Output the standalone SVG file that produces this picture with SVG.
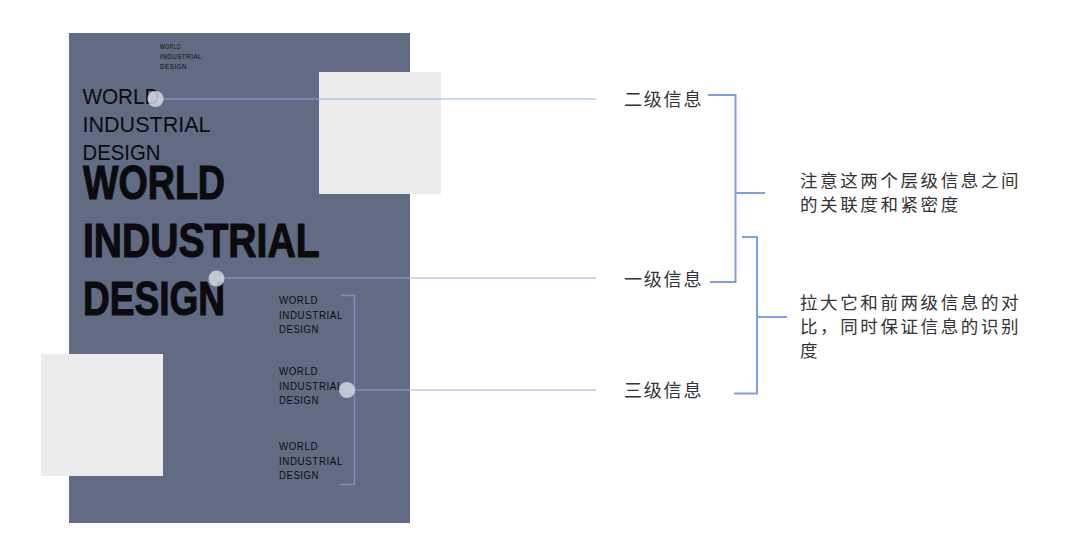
<svg xmlns="http://www.w3.org/2000/svg" width="1080" height="557" viewBox="0 0 1080 557">
<style>
.poster-en{font-family:"Liberation Sans",Arial,sans-serif;fill:#0b0b0d}
.big{font-weight:bold;font-size:48.5px;stroke:#0b0b0d;stroke-width:1.2px}
.mid{font-size:22px}
.sm{font-size:10px;letter-spacing:0.6px}
.xs{font-size:7px;letter-spacing:0.5px}
.label{font-family:"Noto Sans CJK SC","Noto Sans",sans-serif;fill:#333333;font-size:18px;letter-spacing:1.8px}
.note{font-family:"Noto Sans CJK SC","Noto Sans",sans-serif;fill:#333333;font-size:17.5px;letter-spacing:2.6px}
.lead{stroke:#8aa8ec;stroke-opacity:0.6;stroke-width:1.5;fill:none}
.brk{stroke:#7c9ee8;stroke-width:2;fill:none}
.dot{fill:#dcdee5;fill-opacity:0.8}
.sq{fill:#ececec}
</style>
<rect width="1080" height="557" fill="#ffffff"/>
<g id="poster">
<rect x="69" y="33" width="341" height="490" fill="#626b84"/>
<g class="poster-en">
<text class="xs" x="160" y="49.3" textLength="21" lengthAdjust="spacingAndGlyphs">WORLD</text>
<text class="xs" x="160" y="59" textLength="42" lengthAdjust="spacingAndGlyphs">INDUSTRIAL</text>
<text class="xs" x="160" y="68.7" textLength="27" lengthAdjust="spacingAndGlyphs">DESIGN</text>
<text class="mid" x="82.5" y="103.5" textLength="77" lengthAdjust="spacingAndGlyphs">WORLD</text>
<text class="mid" x="82.5" y="132.3" textLength="128" lengthAdjust="spacingAndGlyphs">INDUSTRIAL</text>
<text class="mid" x="82.5" y="159.5" textLength="78" lengthAdjust="spacingAndGlyphs">DESIGN</text>
<text class="big" x="83" y="199" textLength="142" lengthAdjust="spacingAndGlyphs">WORLD</text>
<text class="big" x="83" y="257" textLength="236.5" lengthAdjust="spacingAndGlyphs">INDUSTRIAL</text>
<text class="big" x="83" y="315" textLength="142" lengthAdjust="spacingAndGlyphs">DESIGN</text>
<text class="sm" x="279" y="304" textLength="39" lengthAdjust="spacingAndGlyphs">WORLD</text>
<text class="sm" x="279" y="318.7" textLength="64" lengthAdjust="spacingAndGlyphs">INDUSTRIAL</text>
<text class="sm" x="279" y="333" textLength="40" lengthAdjust="spacingAndGlyphs">DESIGN</text>
<text class="sm" x="279" y="375" textLength="39" lengthAdjust="spacingAndGlyphs">WORLD</text>
<text class="sm" x="279" y="389.7" textLength="64" lengthAdjust="spacingAndGlyphs">INDUSTRIAL</text>
<text class="sm" x="279" y="404" textLength="40" lengthAdjust="spacingAndGlyphs">DESIGN</text>
<text class="sm" x="279" y="450" textLength="39" lengthAdjust="spacingAndGlyphs">WORLD</text>
<text class="sm" x="279" y="465" textLength="64" lengthAdjust="spacingAndGlyphs">INDUSTRIAL</text>
<text class="sm" x="279" y="479" textLength="40" lengthAdjust="spacingAndGlyphs">DESIGN</text>
</g>
</g>
<g id="square-top">
<rect class="sq" x="319" y="72" width="122" height="122"/>
</g>
<g id="square-bottom">
<rect class="sq" x="41" y="354" width="122" height="122"/>
</g>
<g id="connectors">
<path class="lead" d="M155 99 H596"/>
<path class="lead" d="M216 278 H596"/>
<path class="lead" d="M347 390 H596"/>
<path class="lead" d="M341 295.5 H354.5 V484.5 H340"/>
<path class="brk" d="M708 95 H735.5 V282 H710 M735.5 193 H765"/>
<path class="brk" d="M742 237 H757 V393.5 H734 M757 317 H787"/>
</g>
<g id="dot-secondary"><circle class="dot" cx="155.5" cy="99" r="8"/></g>
<g id="dot-primary"><circle class="dot" cx="216.5" cy="278.5" r="8"/></g>
<g id="dot-tertiary"><circle class="dot" cx="347" cy="390" r="8"/></g>
<g id="label-secondary"><text class="label" x="624" y="105.5">二级信息</text></g>
<g id="label-primary"><text class="label" x="624" y="285.5">一级信息</text></g>
<g id="label-tertiary"><text class="label" x="624" y="396.5">三级信息</text></g>
<g id="note-1">
<text class="note" x="800" y="187">注意这两个层级信息之间</text>
<text class="note" x="800" y="210.5">的关联度和紧密度</text>
</g>
<g id="note-2">
<text class="note" x="800" y="309">拉大它和前两级信息的对</text>
<text class="note" x="800" y="333">比，同时保证信息的识别</text>
<text class="note" x="800" y="357">度</text>
</g>
</svg>
